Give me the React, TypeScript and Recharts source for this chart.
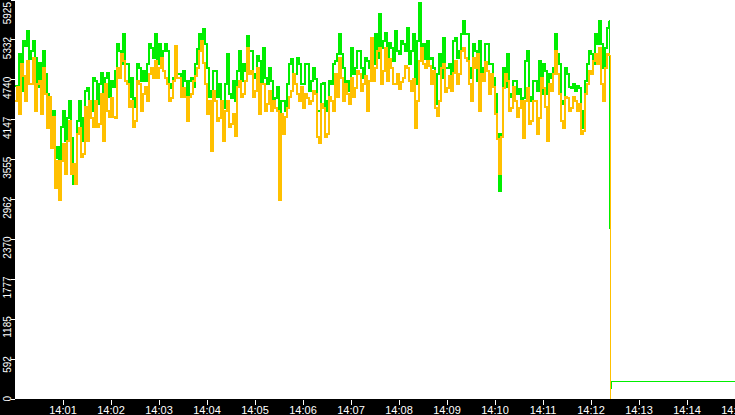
import * as React from "react";
import { LineChart, Line, XAxis, YAxis, CartesianGrid } from "recharts";

// two readings per 5 s slot from 14:00:00: one on the slot, one half way
const SAMPLE_STEP = 5;

const greenValues = [
  4651, 5125, 5318, 5466, 5170, 5066, 4992, 5170, 4533, 3940,
  3585, 3392, 4281, 4177, 3881, 3496, 4429, 4177, 4622, 4281,
  4725, 4681, 4029, 4844, 4725, 4873, 5170, 5421, 4977, 4770,
  4473, 4918, 4873, 4977, 5214, 5421, 5273, 5170, 5170, 4622,
  5051, 4829, 4873, 4325, 4770, 4977, 5421, 5495, 4918, 4577,
  4873, 4681, 4325, 5125, 4473, 4429, 5170, 4977, 5392, 5170,
  4829, 5021, 5214, 4681, 4725, 4473, 3496, 4429, 4681, 5051,
  4829, 4977, 4681, 4977, 4725, 4755, 4281, 4696, 4429, 4681,
  5021, 5421, 4918, 4725, 5214, 4918, 5170, 4770, 5021, 5214,
  5421, 5718, 5318, 5066, 5214, 5466, 5125, 5273, 5510, 5170,
  4681, 5881, 5273, 5318, 5066, 4385, 5125, 5362, 4918, 4829,
  5362, 5170, 5614, 5421, 4770, 5170, 5318, 4918, 5273, 4977,
  4533, 3096, 4918, 5125, 4533, 4725, 4607, 4473, 5170, 4429,
  4725, 5021, 4977, 4533, 4770, 5421, 4977, 4429, 4829, 4622,
  4577, 4622, 4029, 4977, 5125, 5421, 5614, 4918, 5510,
];

const greenMidValues = [
  4478, 4577, 5243, 5046, 5318, 4626, 4626, 4824, 4281, 4281,
  3738, 4034, 3836, 4429, 3194, 4132, 3836, 4577, 4182, 4774,
  4379, 4848, 4774, 4478, 4626, 5268, 4972, 4972, 4478, 4330,
  4972, 4725, 4725, 5268, 5071, 4972, 4922, 5268, 4676, 4774,
  4824, 4626, 4725, 4725, 4626, 5194, 5268, 5268, 4478, 4873,
  4478, 4231, 4676, 4528, 4725, 4873, 4725, 4873, 5169, 4774,
  5095, 4676, 4774, 4922, 4429, 4626, 4429, 4281, 4972, 4774,
  5071, 4676, 4972, 4577, 4922, 4281, 4676, 4281, 4725, 4972,
  5120, 5120, 4577, 4577, 4824, 5169, 4922, 5071, 4922, 4972,
  5071, 5219, 5441, 5293, 5021, 5169, 5318, 5169, 4972, 5416,
  5318, 5071, 5046, 5046, 4922, 4824, 4774, 4922, 4972, 5318,
  5071, 5416, 5416, 4922, 5268, 4725, 4824, 5268, 4972, 4774,
  3935, 3935, 4626, 4478, 4725, 4528, 4429, 5021, 4478, 4725,
  4577, 4528, 4873, 4824, 4922, 5120, 4379, 4922, 4626, 4676,
  4651, 4281, 4725, 5169, 4972, 5268, 5268, 5219, 5614,
];

const orangeValues = [
  4429, 4236, 4799, 5021, 4681, 4281, 4725, 4918, 4029, 3733,
  3140, 2948, 3792, 3836, 3348, 3200, 4029, 3644, 3836, 4177,
  4429, 4088, 3836, 4281, 4473, 4177, 4770, 5021, 4681, 4429,
  4133, 4681, 4533, 4429, 4918, 5021, 4918, 4873, 4681, 4473,
  5244, 4770, 4622, 4133, 4533, 4799, 5170, 4992, 4236, 3688,
  4429, 4177, 3836, 4429, 4088, 3910, 4725, 4533, 5214, 4873,
  4577, 4236, 4681, 4385, 4281, 4325, 2948, 3940, 4325, 4577,
  4681, 4429, 4325, 4473, 4429, 4533, 3807, 4325, 3940, 4429,
  4829, 5066, 4429, 4533, 4770, 4622, 4829, 4681, 4281, 5362,
  4918, 5214, 4873, 4725, 4918, 4681, 4607, 4770, 4918, 4577,
  4029, 5021, 4977, 5021, 4681, 4325, 4429, 4977, 4622, 4577,
  5021, 4829, 5214, 5021, 4429, 4918, 4281, 4725, 4873, 4829,
  4236, 3348, 4622, 4725, 4325, 4429, 4325, 3881, 4622, 4133,
  4429, 4177, 4622, 3836, 4577, 5170, 4533, 4029, 4473, 4325,
  4429, 4385, 3984, 4681, 4829, 5125, 5214, 4429, 5125,
];

const orangeMidValues = [
  4626, 4972, 4429, 4676, 5071, 4676, 4231, 4528, 4478, 4182,
  3540, 3540, 3342, 4132, 3491, 3935, 3589, 4330, 4429, 4034,
  4034, 4528, 4676, 4182, 4182, 4922, 5120, 4725, 4330, 4034,
  4725, 4281, 4626, 4824, 4774, 4774, 5071, 4774, 4429, 4725,
  4774, 4478, 4478, 4478, 4725, 4922, 5318, 4676, 4429, 4577,
  4132, 4429, 4281, 4034, 4231, 4626, 4478, 4725, 4824, 4478,
  4922, 4676, 4281, 4577, 4429, 4281, 4231, 4182, 4478, 4824,
  4528, 4626, 4528, 4379, 4577, 3886, 4379, 3886, 4478, 4281,
  4478, 4774, 4676, 4379, 4478, 4873, 4577, 4799, 4725, 4725,
  5169, 4676, 5219, 5046, 4676, 4824, 4700, 4947, 4725, 4750,
  4429, 5219, 4922, 4947, 4873, 4207, 4922, 4552, 4799, 4848,
  4676, 5169, 5071, 4676, 5071, 5120, 4824, 4997, 4528, 4626,
  3861, 3886, 4824, 4281, 4626, 4182, 4429, 4429, 4083, 4429,
  3935, 4774, 4330, 4676, 4824, 4824, 4132, 4478, 4281, 4478,
  4281, 3935, 4528, 4873, 5021, 4972, 4676, 4922, 5095,
];

// the drop at ~14:12:23 and the low level after it (drawn as a thin line)
const tailSeconds = [742.5, 743, 743.5, 744, 745.5, 900];
const tailGreen = [5614, 2780, 2530, 150, 267, 267];
const tailOrange: (number | null)[] = [5095, null, null, 0, null, null];

const yTicks = [0, 592, 1185, 1777, 2370, 2962, 3555, 4147, 4740, 5332, 5925];
const xTicks = [60, 120, 180, 240, 300, 360, 420, 480, 540, 600, 660, 720, 780, 840, 900];

const data: Record<string, number | null | undefined>[] = [
  ...greenValues.flatMap((g, i) => [
    { t: i * SAMPLE_STEP, green: g, orange: orangeValues[i] },
    { t: i * SAMPLE_STEP + SAMPLE_STEP / 2, green: greenMidValues[i], orange: orangeMidValues[i] },
  ]),
  ...tailSeconds.slice(1).map((t, i) => ({ t, greenTail: tailGreen[i + 1], orangeTail: tailOrange[i + 1] })),
];
// the tail starts on the last regular reading
Object.assign(data[data.length - tailSeconds.length], { greenTail: tailGreen[0], orangeTail: tailOrange[0] });

const font = "'Liberation Sans', Arial, sans-serif";
const GREEN = "#00ee00";
const ORANGE = "#ffc000";

function timeLabel(sec: number) {
  const m = Math.floor(sec / 60);
  return `14:${String(m).padStart(2, "0")}`;
}

function XTick(props: any) {
  const { x, payload } = props;
  return (
    <g>
      <line x1={x} x2={x} y1={400} y2={405} stroke="#fff" shapeRendering="crispEdges" />
      <text x={x} y={414} textAnchor="middle" fill="#fff" fontSize={11} fontFamily={font}>
        {timeLabel(payload.value)}
      </text>
    </g>
  );
}

function YTick(props: any) {
  const { y, payload } = props;
  const ty = Math.max(y - 3, 2);
  return (
    <g>
      <line x1={11} x2={15} y1={y} y2={y} stroke="#fff" shapeRendering="crispEdges" />
      <text
        transform={`translate(10.5 ${ty}) rotate(-90)`}
        textAnchor="end"
        fill="#fff"
        fontSize={10}
        fontFamily={font}
      >
        {payload.value}
      </text>
    </g>
  );
}

export default function App() {
  return (
    <div
      style={{
        position: "absolute",
        left: 0,
        top: 0,
        width: 735,
        height: 415,
        background: "#000",
      }}
    >
      <LineChart width={735} height={415} data={data} margin={{ top: 0, right: 0, bottom: 0, left: 0 }}>
        <CartesianGrid fill="#ffffff" stroke="none" horizontal={false} vertical={false} />
        <XAxis
          dataKey="t"
          type="number"
          domain={[0, 900]}
          ticks={xTicks}
          interval={0}
          height={16}
          axisLine={false}
          tickLine={false}
          tick={(p: any) => <XTick {...p} />}
        />
        <YAxis
          type="number"
          domain={[0, 5925]}
          ticks={yTicks}
          interval={0}
          width={15}
          axisLine={false}
          tickLine={false}
          tick={(p: any) => <YTick {...p} />}
        />
        <Line
          type="stepAfter"
          dataKey="greenTail"
          stroke={GREEN}
          strokeWidth={1}
          dot={false}
          activeDot={false}
          connectNulls
          isAnimationActive={false}
          shapeRendering="crispEdges"
        />
        <Line
          type="stepAfter"
          dataKey="green"
          stroke={GREEN}
          strokeWidth={2}
          dot={false}
          activeDot={false}
          isAnimationActive={false}
          shapeRendering="crispEdges"
        />
        <Line
          type="stepAfter"
          dataKey="orangeTail"
          stroke={ORANGE}
          strokeWidth={1}
          dot={false}
          activeDot={false}
          connectNulls
          isAnimationActive={false}
          shapeRendering="crispEdges"
        />
        <Line
          type="stepAfter"
          dataKey="orange"
          stroke={ORANGE}
          strokeWidth={2}
          dot={false}
          activeDot={false}
          isAnimationActive={false}
          shapeRendering="crispEdges"
        />
      </LineChart>
    </div>
  );
}
